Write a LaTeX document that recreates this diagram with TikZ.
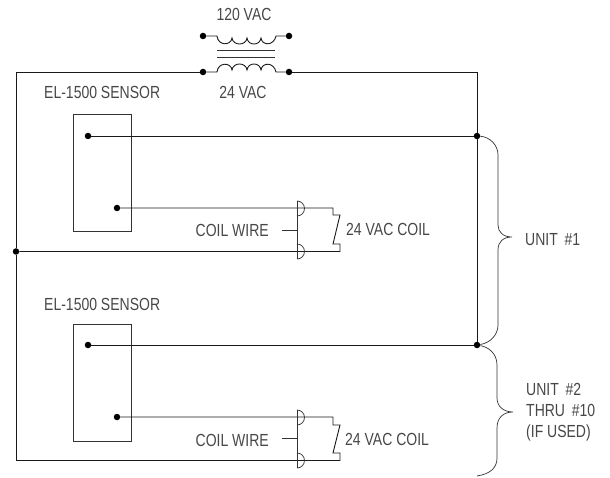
\documentclass[tikz,border=0pt]{standalone}
\usepackage{fontspec}
\setmainfont{Liberation Sans}[FakeStretch=0.8]
\tikzset{
  wire/.style={line width=0.9pt,black!90},
  thinwire/.style={line width=0.7pt,black!80},
  lbl/.style={inner sep=0pt,font=\fontsize{17.5}{21}\selectfont,text=black!72},
  dot/.style={circle,fill=black,inner sep=0pt,minimum size=6.5pt}
}
\begin{document}
\begin{tikzpicture}[x=1pt,y=-1pt]
\useasboundingbox (0,0) rectangle (610,478);
% transformer
\node [dot] (t1) at (203,36) {};
\node [dot] (t2) at (289,36) {};
\node [dot] (t3) at (203,72) {};
\node [dot] (t4) at (289,72) {};
\coordinate (c1) at (16,72);
\coordinate (c2) at (477,72);
\draw [wire] (t1) -- (217,36) .. controls (218,46) and (231,46) .. (232,38) .. controls (233,46) and (246,46) .. (247,38) .. controls (248,46) and (260,46) .. (261,38) .. controls (262,46) and (274,46) .. (276,36) -- (t2);
\draw [wire] (t3) -- (217,72) .. controls (218,62) and (231,62) .. (232,70) .. controls (233,62) and (246,62) .. (247,70) .. controls (248,62) and (260,62) .. (261,70) .. controls (262,62) and (274,62) .. (276,72) -- (t4);
\draw [thinwire] (217,50) -- (275,50);
\draw [thinwire] (217,57) -- (275,57);
\node [lbl] (l120) at (244,14) {120 VAC};
\node [lbl] (l24) at (243,92) {24 VAC};
% main loop
\node [dot] (j1) at (477,136) {};
\node [dot] (j2) at (477,345) {};
\node [dot] (j3) at (16,251.5) {};
\coordinate (c3) at (16,460.5);
\draw [wire] (t3) -- (c1) -- (j3) -- (c3);
\draw [wire] (t4) -- (c2) -- (j1) -- (j2);
% unit 1
\node [lbl,anchor=west] (s1) at (44,92) {EL-1500 SENSOR};
\draw [thinwire] (73,114) rectangle (131,231);
\node [dot] (a1) at (88,136) {};
\node [dot] (b1) at (117,208) {};
\draw [wire] (a1) -- (j1);
\draw [wire] (b1) -- (333,208) -- (333,215) -- (340,215) -- (333,244) -- (340,244) -- (340,251.5) -- (j3);
\draw [thinwire] (297,201) -- (297,259);
\draw [thinwire] (297,201) arc (-90:90:7.5);
\draw [thinwire] (297,244) arc (-90:90:7.5);
\draw [thinwire] (282,230) -- (297,230);
\node [lbl,anchor=east] (w1) at (269,230) {COIL WIRE};
\node [lbl,anchor=west] (k1) at (346,229) {24 VAC COIL};
% unit 2
\node [lbl,anchor=west] (s2) at (44,304) {EL-1500 SENSOR};
\draw [thinwire] (73,324) rectangle (131,441);
\node [dot] (a2) at (88,345) {};
\node [dot] (b2) at (117,417) {};
\draw [wire] (a2) -- (j2);
\draw [wire] (b2) -- (333,417) -- (333,425) -- (340,425) -- (333,453) -- (340,453) -- (340,460.5) -- (c3);
\draw [thinwire] (297,410) -- (297,468);
\draw [thinwire] (297,410) arc (-90:90:7.5);
\draw [thinwire] (297,453) arc (-90:90:7.5);
\draw [thinwire] (282,438) -- (297,438);
\node [lbl,anchor=east] (w2) at (269,440) {COIL WIRE};
\node [lbl,anchor=west] (k2) at (345,439) {24 VAC COIL};
% braces
\draw [thinwire] (j1) .. controls (490,137) and (498,145) .. (498,155) -- (498,225) .. controls (498,232) and (503,237) .. (512,237) .. controls (503,237) and (498,242) .. (498,250) -- (498,325) .. controls (498,335) and (490,343) .. (j2);
\draw [thinwire] (j2) .. controls (488,347) and (497,353) .. (497,365) -- (497,398) .. controls (497,406) and (503,412) .. (513,412) .. controls (503,412) and (497,418) .. (497,428) -- (497,458) .. controls (497,468) and (490,474) .. (477,476);
\node [lbl,anchor=west] (u1) at (525,240) {UNIT \,\#1};
\node [lbl,anchor=west,align=left] (u2) at (526,412) {UNIT \,\#2\\THRU \,\#10\\(IF USED)};
\end{tikzpicture}
\end{document}
